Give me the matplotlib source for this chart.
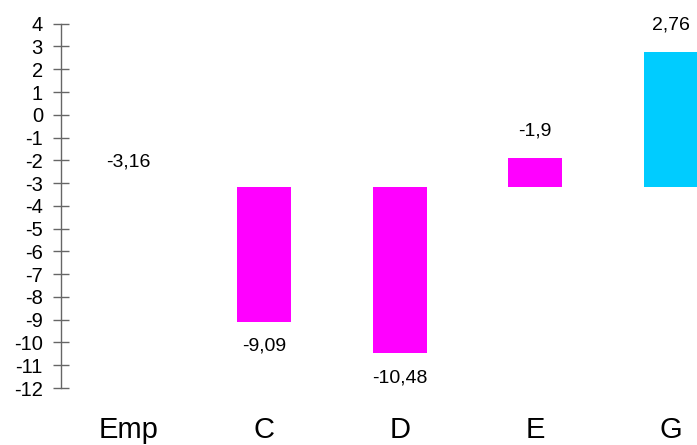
import matplotlib
matplotlib.use("Agg")
import matplotlib.pyplot as plt

plt.rcParams['font.family'] = ['Liberation Sans', 'DejaVu Sans']
plt.rcParams['axes.unicode_minus'] = False

categories = ["Emp", "C", "D", "E", "G"]
values = [-3.16, -9.09, -10.48, -1.9, 2.76]
labels = ["-3,16", "-9,09", "-10,48", "-1,9", "2,76"]
base = -3.16
colors = ["#FF00FF", "#FF00FF", "#FF00FF", "#FF00FF", "#00CCFF"]
yticks = list(range(-12, 5))

fig = plt.figure(figsize=(6.97, 4.45), dpi=100)
ax = fig.add_axes([61/697, 1-388/445, 5*135.5/697, (388-23.7)/445])

x = list(range(len(categories)))
for i, (v, c) in enumerate(zip(values, colors)):
    if i == 0:
        continue
    ax.bar(i, v - base, bottom=base, width=0.4, color=c, linewidth=0)

for i, (v, lab) in enumerate(zip(values, labels)):
    if i == 0:
        off = 17.5
    elif v > base:
        off = 19.5
    else:
        off = -17.5
    ax.annotate(lab, (i, v), xytext=(0, off), textcoords='offset points',
                ha='center', va='center', fontsize=14)

ax.set_xlim(-0.5, 4.5)
ax.set_ylim(-12, 4)
ax.set_yticks(yticks)
ax.set_yticklabels([str(t) for t in yticks], fontsize=14.5)
ax.set_xticks(x)
ax.set_xticklabels(categories, fontsize=21)
ax.tick_params(axis='x', length=0, pad=20)
ax.tick_params(axis='y', direction='inout', length=12, width=1, color='#666666', pad=7)
for s in ['top', 'right', 'bottom']:
    ax.spines[s].set_visible(False)
ax.spines['left'].set_color('#666666')
ax.spines['left'].set_linewidth(1)

fig.savefig("out.png", dpi=100)
